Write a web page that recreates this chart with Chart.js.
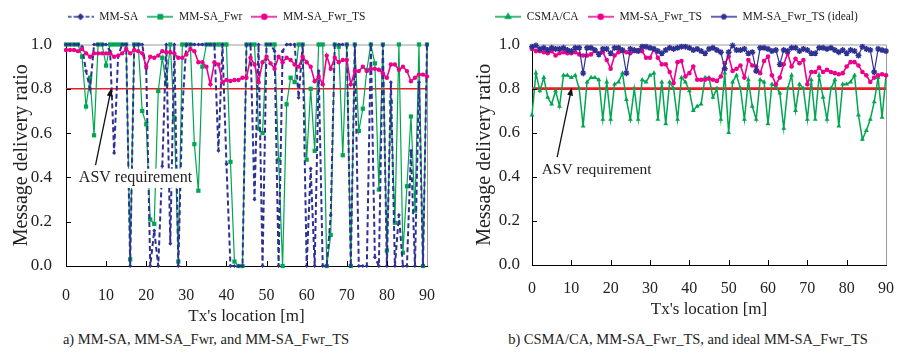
<!DOCTYPE html>
<html>
<head>
<meta charset="utf-8">
<script src="https://cdn.jsdelivr.net/npm/chart.js@4.4.1/dist/chart.umd.min.js"></script>
<style>
  body { margin: 0; background: #fff; width: 908px; height: 353px; overflow: hidden; position: relative; }
  canvas { position: absolute; top: 0; }
  #chartA { left: 0; }
  #chartB { left: 455px; }
  .caption { position: absolute; top: 331px; font-family: "Liberation Serif", serif; font-size: 14.5px; color: #222; white-space: nowrap; transform: translateX(-50%); }
</style>
</head>
<body>
<canvas id="chartA" width="455" height="330"></canvas>
<canvas id="chartB" width="453" height="330"></canvas>
<div class="caption" style="left:206px">a) MM-SA, MM-SA_Fwr, and MM-SA_Fwr_TS</div>
<div class="caption" style="left:688px">b) CSMA/CA, MM-SA_Fwr_TS, and ideal MM-SA_Fwr_TS</div>
<script>
// Tx locations [m]
const locations = [0, 1, 2, 3, 4, 5, 6, 7, 8, 9, 10, 11, 12, 13, 14, 15, 16, 17, 18, 19,
  20, 21, 22, 23, 24, 25, 26, 27, 28, 29, 30, 31, 32, 33, 34, 35, 36, 37, 38, 39,
  40, 41, 42, 43, 44, 45, 46, 47, 48, 49, 50, 51, 52, 53, 54, 55, 56, 57, 58, 59,
  60, 61, 62, 63, 64, 65, 66, 67, 68, 69, 70, 71, 72, 73, 74, 75, 76, 77, 78, 79,
  80, 81, 82, 83, 84, 85, 86, 87, 88, 89, 90];

// a) MM-SA, MM-SA_Fwr, MM-SA_Fwr_TS
const mmSa = [1, 1, 1, 1, 0.99, 0.88, 0.80, 1, 1, 1,
  1, 0.97, 0.51, 0.95, 1, 1, 0.0, 1, 1, 1,
  0.89, 0.0, 0.16, 0.0, 0.45, 1, 0.10, 1, 0.0, 0.71,
  1, 1, 1, 1, 1, 1, 1, 1, 0.52, 1,
  0.46, 0.0, 0.0, 0.0, 0.0, 1, 1, 0.30, 1, 0.0,
  1, 1, 0.97, 0.0, 0.97, 1, 1, 1, 0.76, 1,
  0.0, 0.44, 0.0, 0.88, 0.0, 0.0, 0.23, 1, 1, 1,
  1, 0.0, 1, 0.0, 0.0, 0.0, 1, 0.04, 0.0, 1,
  0.0, 0.83, 0.0, 0.23, 0.0, 0.0, 0.52, 0.0, 0.83, 0.0,
  1];
const mmSaFwr = [1, 1, 1, 1, 0.945, 0.72, 0.85, 0.59, 1, 1,
  0.905, 1, 1, 1, 1, 1, 0.03, 1, 1, 0.70,
  0.64, 0.21, 0.19, 0.79, 0.94, 0.82, 1, 0.67, 0.02, 1,
  1, 1, 0.55, 0.34, 0.90, 1, 1, 1, 1, 1,
  1, 0.47, 0.02, 0.0, 0.0, 1, 1, 1, 0.62, 0.60,
  1, 1, 1, 0.48, 0.0, 0.73, 0.85, 0.83, 1, 1,
  0.48, 0.80, 0.52, 1, 1, 0.0, 0.14, 1, 0.99, 0.50,
  1, 0.0, 1, 0.61, 0.71, 0.885, 1, 0.915, 0.345, 1,
  0.07, 0.74, 0.195, 1, 0.06, 0.36, 0.675, 0.25, 1, 0.0,
  1];
const mmSaFwrTsA = [0.975, 0.975, 0.975, 0.97, 0.98, 0.96, 0.945, 0.96, 0.96, 0.96,
  0.96, 0.96, 0.945, 0.95, 0.96, 0.98, 0.96, 0.975, 0.97, 0.96,
  0.90, 0.945, 0.94, 0.95, 0.97, 0.965, 0.965, 0.96, 0.94, 0.94,
  0.955, 0.98, 0.97, 0.92, 0.92, 0.90, 0.82, 0.92, 0.91, 0.83,
  0.84, 0.835, 0.84, 0.84, 0.85, 0.85, 0.94, 0.91, 0.83, 0.92,
  0.945, 0.915, 0.89, 0.945, 0.92, 0.94, 0.93, 0.91, 0.90, 0.945,
  0.92, 0.90, 0.834, 0.856, 0.82, 0.95, 0.89, 0.94, 0.92, 0.93,
  0.93, 0.82, 0.88, 0.88, 0.90, 0.88, 0.89, 0.89, 0.886, 0.87,
  0.85, 0.91, 0.91, 0.886, 0.90, 0.88, 0.834, 0.85, 0.864, 0.864,
  0.856];

// b) CSMA/CA, MM-SA_Fwr_TS, MM-SA_Fwr_TS (ideal)
const csmaCa = [0.68, 0.87, 0.79, 0.85, 0.76, 0.73, 0.79, 0.72, 0.86, 0.86,
  0.85, 0.86, 0.80, 0.63, 0.83, 0.85, 0.85, 0.84, 0.66, 0.83,
  0.66, 0.82, 0.83, 0.87, 0.75, 0.66, 0.80, 0.66, 0.84, 0.83,
  0.86, 0.87, 0.66, 0.83, 0.64, 0.83, 0.80, 0.66, 0.85, 0.83,
  0.79, 0.70, 0.72, 0.73, 0.85, 0.85, 0.76, 0.80, 0.66, 0.87,
  0.60, 0.83, 0.86, 0.80, 0.66, 0.84, 0.72, 0.66, 0.84, 0.83,
  0.64, 0.82, 0.81, 0.78, 0.62, 0.80, 0.86, 0.70, 0.82, 0.80,
  0.66, 0.84, 0.66, 0.86, 0.76, 0.66, 0.80, 0.84, 0.63, 0.82,
  0.82, 0.83, 0.86, 0.68, 0.57, 0.61, 0.66, 0.74, 0.85, 0.67,
  0.86];
const mmSaFwrTsB = [0.98, 0.97, 0.97, 0.965, 0.96, 0.97, 0.95, 0.96, 0.965, 0.96,
  0.96, 0.965, 0.955, 0.95, 0.95, 0.955, 0.97, 0.96, 0.965, 0.93,
  0.89, 0.95, 0.965, 0.97, 0.965, 0.96, 0.97, 0.975, 0.97, 0.94,
  0.94, 0.98, 0.94, 0.91, 0.91, 0.875, 0.825, 0.92, 0.925, 0.855,
  0.87, 0.90, 0.84, 0.84, 0.84, 0.845, 0.84, 0.835, 0.855, 0.915,
  0.945, 0.88, 0.89, 0.905, 0.85, 0.93, 0.905, 0.90, 0.87, 0.925,
  0.945, 0.86, 0.82, 0.85, 0.91, 0.96, 0.90, 0.935, 0.915, 0.93,
  0.82, 0.875, 0.875, 0.895, 0.875, 0.885, 0.875, 0.87, 0.865, 0.87,
  0.90, 0.92, 0.92, 0.905, 0.875, 0.86, 0.83, 0.85, 0.86, 0.865,
  0.86];
const mmSaFwrTsIdeal = [0.99, 0.995, 0.98, 0.985, 0.975, 0.985, 0.98, 0.98, 0.985, 0.975,
  0.97, 0.985, 0.985, 0.87, 0.985, 0.985, 0.975, 0.955, 0.98, 0.98,
  0.96, 0.985, 0.985, 0.975, 0.87, 0.98, 0.975, 0.97, 0.99, 0.99,
  0.985, 0.98, 0.97, 0.96, 0.975, 0.985, 0.98, 0.985, 0.99, 0.99,
  0.985, 0.975, 0.98, 0.97, 0.96, 0.98, 0.985, 0.975, 0.965, 0.89,
  0.965, 0.995, 0.975, 0.975, 0.98, 0.96, 0.965, 0.88, 0.985, 0.985,
  0.98, 0.97, 0.975, 0.91, 0.975, 0.97, 0.985, 0.985, 0.97, 0.98,
  0.975, 0.96, 0.96, 0.985, 0.985, 0.98, 0.985, 0.975, 0.965, 0.975,
  0.96, 0.975, 0.97, 0.95, 0.99, 0.98, 0.975, 0.875, 0.98, 0.975,
  0.97];

const asvLevel = 0.8;
const xTicks = [0, 10, 20, 30, 40, 50, 60, 70, 80, 90];
const yTicks = [0, 0.2, 0.4, 0.6, 0.8, 1.0];

const serif = '"Liberation Serif", "Times New Roman", serif';
const navy = '#2e3192';
const green = '#00a651';
const pink = '#ec008c';
const red = '#ed1c24';

function toPoints(values) {
  return values.map((v, i) => ({ x: locations[i], y: v }));
}

// small line+marker sample for the legend
function legendIcon(color, dash, style, radius) {
  const c = document.createElement('canvas');
  c.width = 26;
  c.height = 10;
  const ctx = c.getContext('2d');
  ctx.strokeStyle = color;
  ctx.fillStyle = color;
  ctx.lineWidth = 1.5;
  ctx.setLineDash(dash);
  ctx.beginPath();
  ctx.moveTo(0, 5);
  ctx.lineTo(26, 5);
  ctx.stroke();
  ctx.setLineDash([]);
  Chart.helpers.drawPoint(ctx, { pointStyle: style, radius: radius, rotation: 0, borderWidth: 1 }, 13, 5);
  return c;
}

// extra room under the legend
const legendGap = {
  id: 'legendGap',
  beforeInit(chart) {
    const fit = chart.legend.fit;
    chart.legend.fit = function () {
      fit.bind(chart.legend)();
      this.height += 12;
    };
  }
};

const decorations = {
  id: 'decorations',
  beforeDatasetsDraw(chart) {
    const { ctx, chartArea: a } = chart;
    ctx.save();
    ctx.strokeStyle = '#9a9a9a';
    ctx.lineWidth = 1;
    ctx.beginPath();
    ctx.moveTo(a.left, a.top + 0.5);
    ctx.lineTo(a.right + 0.5, a.top + 0.5);
    ctx.lineTo(a.right + 0.5, a.bottom);
    ctx.stroke();
    ctx.restore();
  },
  afterDatasetsDraw(chart, args, opts) {
    const { ctx, chartArea: a, scales: { x, y } } = chart;
    ctx.save();
    // inward tick marks
    ctx.strokeStyle = '#000';
    ctx.lineWidth = 1;
    ctx.beginPath();
    xTicks.slice(1, -1).forEach(v => {
      const px = Math.round(x.getPixelForValue(v)) + 0.5;
      ctx.moveTo(px, a.bottom);
      ctx.lineTo(px, a.bottom - 5);
    });
    yTicks.slice(1, -1).forEach(v => {
      const py = Math.round(y.getPixelForValue(v)) + 0.5;
      ctx.moveTo(a.left, py);
      ctx.lineTo(a.left + 5, py);
    });
    ctx.stroke();

    // "ASV requirement" note with arrow
    const tx = x.getPixelForValue(opts.textAt[0]);
    const ty = y.getPixelForValue(opts.textAt[1]);
    ctx.font = opts.fontSize + 'px ' + serif;
    const w = ctx.measureText(opts.text).width;
    ctx.fillStyle = '#fff';
    ctx.fillRect(tx - 3, ty - opts.fontSize * 0.6, w + 6, opts.fontSize * 1.2);
    ctx.fillStyle = '#222';
    ctx.textBaseline = 'middle';
    ctx.fillText(opts.text, tx, ty);

    const x0 = x.getPixelForValue(opts.tail[0]);
    const y0 = y.getPixelForValue(opts.tail[1]);
    const x1 = x.getPixelForValue(opts.tip[0]);
    const y1 = y.getPixelForValue(opts.tip[1]);
    const ang = Math.atan2(y1 - y0, x1 - x0);
    ctx.strokeStyle = '#111';
    ctx.lineWidth = 1.3;
    ctx.beginPath();
    ctx.moveTo(x0, y0);
    ctx.lineTo(x1 - 6 * Math.cos(ang), y1 - 6 * Math.sin(ang));
    ctx.stroke();
    ctx.fillStyle = '#111';
    ctx.beginPath();
    ctx.moveTo(x1, y1);
    ctx.lineTo(x1 - 8 * Math.cos(ang) + 3 * Math.sin(ang), y1 - 8 * Math.sin(ang) - 3 * Math.cos(ang));
    ctx.lineTo(x1 - 8 * Math.cos(ang) - 3 * Math.sin(ang), y1 - 8 * Math.sin(ang) + 3 * Math.cos(ang));
    ctx.closePath();
    ctx.fill();
    ctx.restore();
  }
};

function buildOptions(cfg) {
  return {
    responsive: false,
    animation: false,
    layout: { padding: { left: 0, right: cfg.padRight, top: cfg.padTop, bottom: 0 } },
    plugins: {
      legend: {
        position: 'top',
        labels: {
          usePointStyle: true,
          pointStyleWidth: 26,
          padding: 9,
          color: '#222',
          font: { family: serif, size: 11.5 },
          generateLabels: chart => chart.data.datasets
            .map((ds, i) => ({
              text: ds.label,
              pointStyle: ds.legendIcon,
              datasetIndex: i,
              hidden: false,
              fontColor: '#222',
              lineWidth: 0,
              strokeStyle: 'rgba(0,0,0,0)',
              fillStyle: 'rgba(0,0,0,0)'
            }))
            .filter(l => l.pointStyle)
        }
      },
      tooltip: { enabled: false },
      decorations: cfg.note
    },
    scales: {
      x: {
        type: 'linear',
        min: 0,
        max: 90,
        afterBuildTicks: s => { s.ticks = xTicks.map(v => ({ value: v })); },
        afterFit: s => { s.height = cfg.xHeight; },
        grid: { display: false, drawTicks: false },
        border: { display: true, color: '#000', width: 1 },
        ticks: { padding: cfg.xPad, color: '#222', font: { family: serif, size: 16 }, maxRotation: 0 },
        title: { display: true, text: "Tx's location [m]", color: '#222', font: { family: serif, size: 17 }, padding: { top: 0, bottom: cfg.xTitlePad } }
      },
      y: {
        min: 0,
        max: 1,
        afterBuildTicks: s => { s.ticks = yTicks.map(v => ({ value: v })); },
        afterFit: s => { s.width = cfg.yWidth; },
        grid: { display: false, drawTicks: false },
        border: { display: true, color: '#000', width: 1 },
        ticks: { padding: cfg.yPad, color: '#222', font: { family: serif, size: 17 }, callback: v => v.toFixed(1) },
        title: { display: true, text: 'Message delivery ratio', color: '#222', font: { family: serif, size: 20 }, padding: { top: cfg.yTitlePad, bottom: 0 } }
      }
    }
  };
}

const asvLineA = [{ x: 0, y: asvLevel }, { x: 90, y: asvLevel }];

new Chart(document.getElementById('chartA'), {
  type: 'line',
  data: {
    datasets: [
      {
        label: 'MM-SA', data: toPoints(mmSa), order: 1, clip: false,
        borderColor: navy, backgroundColor: navy, borderWidth: 2, borderDash: [5, 3],
        pointStyle: 'rectRot', pointRadius: 2, pointBorderWidth: 0,
        legendIcon: legendIcon(navy, [4, 2], 'rectRot', 2.5)
      },
      {
        label: 'MM-SA_Fwr', data: toPoints(mmSaFwr), order: 2, clip: false,
        borderColor: green, backgroundColor: green, borderWidth: 1.2,
        pointStyle: 'rect', pointRadius: 3, pointBorderWidth: 0,
        legendIcon: legendIcon(green, [], 'rect', 3)
      },
      {
        label: 'MM-SA_Fwr_TS', data: toPoints(mmSaFwrTsA), order: 0, clip: false,
        borderColor: pink, backgroundColor: pink, borderWidth: 1.6,
        pointStyle: 'circle', pointRadius: 2.2, pointBorderWidth: 0,
        legendIcon: legendIcon(pink, [], 'circle', 2.5)
      },
      {
        label: 'ASV', data: asvLineA, order: 3,
        borderColor: red, borderWidth: 1.5, pointRadius: 0
      }
    ]
  },
  options: buildOptions({
    padRight: 22, padTop: 2, xHeight: 64, xPad: 20, xTitlePad: 3, yWidth: 66, yPad: 14, yTitlePad: 10,
    note: { text: 'ASV requirement', fontSize: 16, textAt: [3.2, 0.396], tail: [7.36, 0.455], tip: [11.3, 0.802] }
  }),
  plugins: [legendGap, decorations]
});

new Chart(document.getElementById('chartB'), {
  type: 'line',
  data: {
    datasets: [
      {
        label: 'CSMA/CA', data: toPoints(csmaCa), order: 2, clip: false,
        borderColor: green, backgroundColor: green, borderWidth: 1.5,
        pointStyle: 'triangle', pointRadius: 2.8, pointBorderWidth: 0,
        legendIcon: legendIcon(green, [], 'triangle', 3)
      },
      {
        label: 'MM-SA_Fwr_TS', data: toPoints(mmSaFwrTsB), order: 1, clip: false,
        borderColor: pink, backgroundColor: pink, borderWidth: 1.6,
        pointStyle: 'circle', pointRadius: 2.3, pointBorderWidth: 0,
        legendIcon: legendIcon(pink, [], 'circle', 2.5)
      },
      {
        label: 'MM-SA_Fwr_TS (ideal)', data: toPoints(mmSaFwrTsIdeal), order: 0, clip: false,
        borderColor: navy, backgroundColor: navy, borderWidth: 1.2,
        pointStyle: 'star', pointRadius: 3, pointBorderWidth: 1.4,
        legendIcon: legendIcon(navy, [], 'star', 3)
      },
      {
        label: 'ASV', data: asvLineA, order: 3,
        borderColor: red, borderWidth: 2.8, pointRadius: 0
      }
    ]
  },
  options: buildOptions({
    padRight: 10, padTop: 2, xHeight: 65, xPad: 14, xTitlePad: 10, yWidth: 77, yPad: 12, yTitlePad: 18,
    note: { text: 'ASV requirement', fontSize: 15.5, textAt: [2.46, 0.43], tail: [6.4, 0.489], tip: [10.1, 0.805] }
  }),
  plugins: [legendGap, decorations]
});
</script>
</body>
</html>
